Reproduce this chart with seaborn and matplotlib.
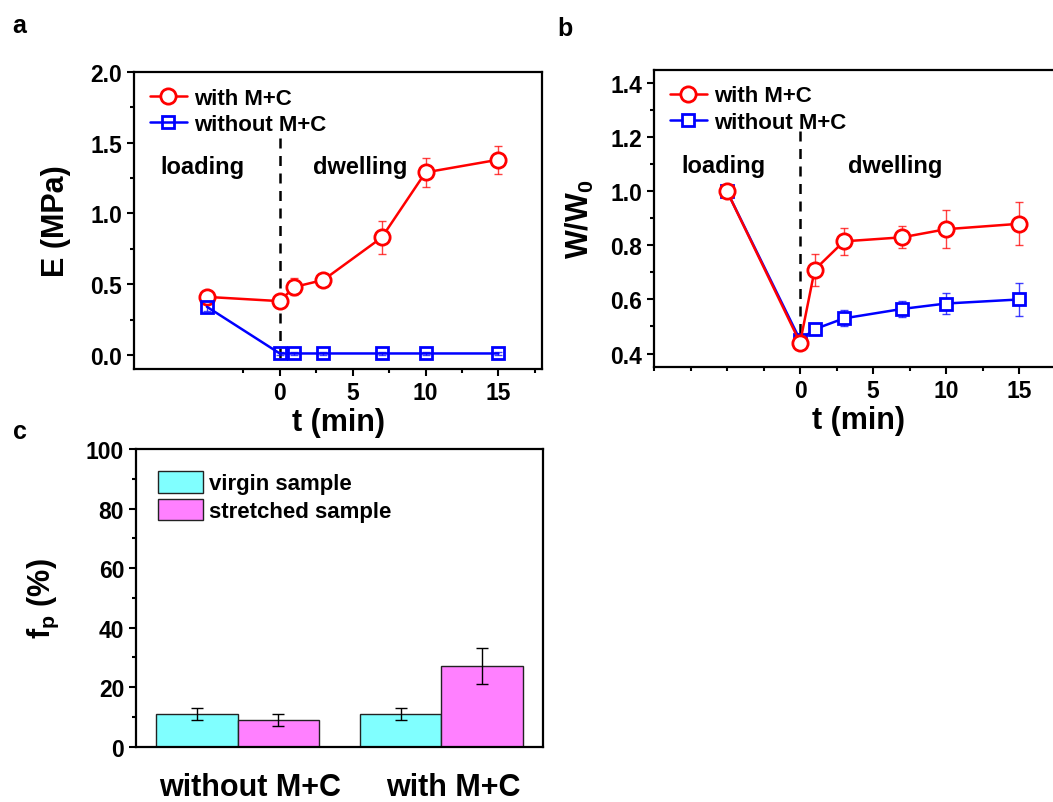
import pandas as pd
import seaborn as sns
import matplotlib.pyplot as plt
import matplotlib.transforms as mtransforms
from matplotlib.ticker import MultipleLocator, FixedLocator

# dados
t = [-5, 0, 1, 3, 7, 10, 15]

E_com = [0.41, 0.38, 0.48, 0.53, 0.83, 1.29, 1.38]
E_com_err = [0.02, 0.05, 0.06, 0.02, 0.12, 0.10, 0.10]
E_sem = [0.34, 0.01, 0.01, 0.01, 0.01, 0.01, 0.01]
E_sem_err = [0.03, 0.01, 0.01, 0.01, 0.01, 0.01, 0.01]

W_com = [1.0, 0.44, 0.71, 0.815, 0.83, 0.86, 0.88]
W_com_err = [0.01, 0.02, 0.06, 0.05, 0.04, 0.07, 0.08]
W_sem = [1.0, 0.45, 0.49, 0.53, 0.565, 0.585, 0.60]
W_sem_err = [0.01, 0.01, 0.015, 0.03, 0.03, 0.04, 0.06]

grupos = ["without M+C", "with M+C"]
amostras = ["virgin sample", "stretched sample"]
fp_virgem = [11, 11]
fp_virgem_err = [2, 2]
fp_estirada = [9, 27]
fp_estirada_err = [2, 6]

sns.set_style("ticks")
plt.rcParams['font.family'] = ['Liberation Sans', 'DejaVu Sans']
plt.rcParams['font.weight'] = 'bold'
plt.rcParams['axes.labelweight'] = 'bold'
plt.rcParams['text.color'] = 'black'
plt.rcParams['axes.labelcolor'] = 'black'
plt.rcParams['xtick.color'] = 'black'
plt.rcParams['ytick.color'] = 'black'
plt.rcParams['mathtext.fontset'] = 'custom'
plt.rcParams['mathtext.rm'] = 'Liberation Sans:bold'
plt.rcParams['mathtext.it'] = 'Liberation Sans:bold'
plt.rcParams['mathtext.bf'] = 'Liberation Sans:bold'

fig = plt.figure(figsize=(10.53, 8.03), dpi=100)
ax_a = fig.add_axes([0.1273, 0.5392, 0.3875, 0.3699])
ax_b = fig.add_axes([0.6211, 0.5417, 0.3884, 0.3702])
ax_c = fig.add_axes([0.1292, 0.0689, 0.3865, 0.3707])


def estilo_eixo(ax):
    for s in ax.spines.values():
        s.set_linewidth(1.6)
        s.set_color('black')
    ax.tick_params(which='major', direction='out', length=5, width=1.5,
                   labelsize=16.5, color='black', labelcolor='black')
    ax.tick_params(which='minor', direction='out', length=3, width=1.5,
                   color='black')
    for lb in ax.get_xticklabels() + ax.get_yticklabels():
        lb.set_fontweight('bold')


def desenha_serie(ax, y, yerr, cor, marcador, ms, face, rotulo):
    df = pd.DataFrame({"t": t, "v": y})
    ax.errorbar(t, y, yerr=yerr, fmt='none', ecolor=cor, elinewidth=1,
                capsize=3, capthick=1, alpha=0.75, zorder=2)
    sns.lineplot(data=df, x="t", y="v", ax=ax, color=cor, lw=1.8,
                 marker=marcador, markersize=ms, markerfacecolor=face,
                 markeredgecolor=cor, markeredgewidth=2, label=rotulo,
                 zorder=3)


# ---------------- painel a ----------------
desenha_serie(ax_a, E_com, E_com_err, 'red', 'o', 11, 'white', 'with M+C')
desenha_serie(ax_a, E_sem, E_sem_err, 'blue', 's', 9, 'none', 'without M+C')
ax_a.plot([0, 0], [-0.02, 1.57], ls=(0, (4, 3)), color='black', lw=1.8, zorder=1)
ax_a.set_xlim(-10, 18)
ax_a.set_ylim(-0.1, 2.0)
ax_a.xaxis.set_major_locator(FixedLocator([0, 5, 10, 15]))
ax_a.xaxis.set_minor_locator(FixedLocator([-2.5, 2.5, 7.5, 12.5, 17.5]))
ax_a.yaxis.set_major_locator(MultipleLocator(0.5))
ax_a.yaxis.set_minor_locator(MultipleLocator(0.25))
ax_a.yaxis.set_major_formatter(plt.FormatStrFormatter('%.1f'))
ax_a.set_xlabel("t (min)", fontsize=22, labelpad=2)
ax_a.set_ylabel("E (MPa)", fontsize=22, labelpad=14)
ax_a.text(-5.3, 1.33, "loading", fontsize=17, ha='center', va='center')
ax_a.text(5.5, 1.33, "dwelling", fontsize=17, ha='center', va='center')
ax_a.legend(loc='upper left', frameon=False, handlelength=1.7,
            handletextpad=0.3, labelspacing=0.25, borderaxespad=0.3,
            prop={'weight': 'bold', 'size': 16})
estilo_eixo(ax_a)

# ---------------- painel b ----------------
desenha_serie(ax_b, W_sem, W_sem_err, 'blue', 's', 9, 'white', 'without M+C')
desenha_serie(ax_b, W_com, W_com_err, 'red', 'o', 11, 'white', 'with M+C')
ax_b.plot([0, 0], [0.41, 1.23], ls=(0, (4, 3)), color='black', lw=1.8, zorder=1)
ax_b.set_xlim(-10, 18)
ax_b.set_ylim(0.35, 1.45)
ax_b.xaxis.set_major_locator(FixedLocator([0, 5, 10, 15]))
ax_b.xaxis.set_minor_locator(FixedLocator([-10, -7.5, -5, -2.5, 2.5, 7.5, 12.5, 17.5]))
ax_b.yaxis.set_major_locator(MultipleLocator(0.2))
ax_b.yaxis.set_minor_locator(MultipleLocator(0.1))
ax_b.yaxis.set_major_formatter(plt.FormatStrFormatter('%.1f'))
ax_b.set_xlabel("t (min)", fontsize=22, labelpad=2)
ax_b.set_ylabel(r"W/W$_\mathbf{0}$", fontsize=22, labelpad=10)
ax_b.text(-5.25, 1.095, "loading", fontsize=17, ha='center', va='center')
ax_b.text(6.5, 1.095, "dwelling", fontsize=17, ha='center', va='center')
h, l = ax_b.get_legend_handles_labels()
ax_b.legend(h[::-1], l[::-1], loc='upper left', frameon=False, handlelength=1.7,
            handletextpad=0.3, labelspacing=0.25, borderaxespad=0.3,
            prop={'weight': 'bold', 'size': 16})
estilo_eixo(ax_b)

# ---------------- painel c ----------------
df_c = pd.DataFrame({
    "grupo": grupos * 2,
    "amostra": [amostras[0]] * 2 + [amostras[1]] * 2,
    "fp": fp_virgem + fp_estirada,
})
sns.barplot(data=df_c, x="grupo", y="fp", hue="amostra", ax=ax_c,
            palette=["#80ffff", "#ff80ff"], width=0.8, errorbar=None,
            edgecolor="#222222", linewidth=1, saturation=1)
erros = [fp_virgem_err, fp_estirada_err]
valores = [fp_virgem, fp_estirada]
barras = list(ax_c.containers)
for k, cont in enumerate(barras):
    xs = [p.get_x() + p.get_width() / 2 for p in cont.patches]
    ax_c.errorbar(xs, valores[k], yerr=erros[k], fmt='none', ecolor='black',
                  elinewidth=1, capsize=4, capthick=1)
ax_c.set_xlim(-0.5, 1.5)
ax_c.set_ylim(0, 100)
ax_c.yaxis.set_major_locator(MultipleLocator(20))
ax_c.yaxis.set_minor_locator(MultipleLocator(10))
ax_c.set_xlabel("")
ax_c.set_ylabel(r"f$_\mathbf{p}$ (%)", fontsize=22, labelpad=18)
estilo_eixo(ax_c)
ax_c.tick_params(axis='x', which='both', length=0, labelsize=22, pad=18)
desloc = mtransforms.ScaledTranslation(0.12, 0, fig.dpi_scale_trans)
for lb in ax_c.get_xticklabels():
    lb.set_fontweight('bold')
    lb.set_transform(lb.get_transform() + desloc)
h, l = ax_c.get_legend_handles_labels()
ax_c.legend(h, l, loc='upper left', frameon=False, handlelength=2.0,
            handleheight=1.1, handletextpad=0.3, labelspacing=0.2,
            borderaxespad=0.6, prop={'weight': 'bold', 'size': 16})

# letras dos paineis
fig.text(0.012, 0.968, "a", fontsize=18, fontweight='bold', va='center')
fig.text(0.529, 0.964, "b", fontsize=18, fontweight='bold', va='center')
fig.text(0.012, 0.462, "c", fontsize=18, fontweight='bold', va='center')

plt.savefig("out.png", dpi=100)
